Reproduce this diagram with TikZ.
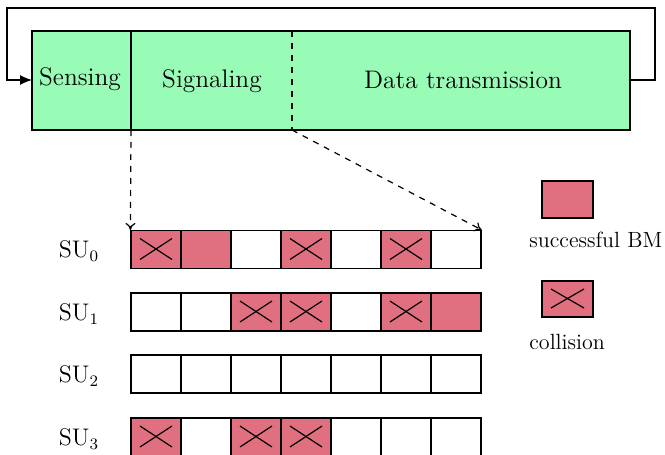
\documentclass[tikz,border=0pt]{standalone}
\usetikzlibrary{arrows.meta}
\definecolor{phasegreen}{RGB}{152,251,182}
\definecolor{bmred}{RGB}{224,112,128}
\tikzset{
  lw/.style={line width=0.6pt},
  txt/.style={font=\fontsize{12}{14}\selectfont, inner sep=0pt},
  phasetxt/.style={font=\fontsize{12.7}{15}\selectfont, inner sep=0pt},
  legtxt/.style={font=\fontsize{11}{13}\selectfont, inner sep=0pt, anchor=west},
  bmcellw/.style={draw, lw, fill=white, minimum width=25pt, minimum height=19pt, inner sep=0pt},
  bmcells/.style={bmcellw, fill=bmred},
  bmcellx/.style={bmcells, path picture={
      \draw[lw] ([xshift=4.5pt,yshift=-4pt]path picture bounding box.north west) -- ([xshift=-4.5pt,yshift=4.5pt]path picture bounding box.south east);
      \draw[lw] ([xshift=4.5pt,yshift=4.5pt]path picture bounding box.south west) -- ([xshift=-4.5pt,yshift=-4pt]path picture bounding box.north east);}},
  zoomarrow/.style={lw, dashed, -{To[length=3.5pt,width=5pt]}},
}
\begin{document}
\begin{tikzpicture}[x=0.5pt,y=-0.5pt]
\useasboundingbox (0,0) rectangle (665,455);
% top frame
\coordinate (fNW) at (32,31);
\coordinate (fSE) at (630,130);
\fill[phasegreen] (fNW) rectangle (fSE);
\draw[lw] (fNW) rectangle (fSE);
\coordinate (d1top) at (131,31);
\coordinate (d1bot) at (131,130);
\coordinate (d2top) at (292,31);
\coordinate (d2bot) at (292,130);
\draw[lw] (d1top) -- (d1bot);
\draw[lw, dashed] (d2top) -- (d2bot);
\node[phasetxt] (sensing) at (80,79) {Sensing};
\node[phasetxt] (signaling) at (212,81) {Signaling};
\node[phasetxt] (data) at (463,80) {Data transmission};
% feedback loop
\coordinate (loopR) at (630,80);
\coordinate (loopL) at (32,80);
\draw[lw, -{Latex[length=6pt,width=5pt]}] (loopR) -- (655,80) -- (655,8) -- (7,8) -- (7,80) -- (loopL);
% SU labels
\node[txt] (su0) at (79,251) {SU$_0$};
\node[txt] (su1) at (79,314) {SU$_1$};
\node[txt] (su2) at (79,376) {SU$_2$};
\node[txt] (su3) at (79,439) {SU$_3$};
% grid
\foreach \t [count=\i from 0] in {x,s,w,x,w,x,w}
  \node[bmcell\t] (c0\i) at ({156+50*\i},249.5) {};
\foreach \t [count=\i from 0] in {w,w,x,x,w,x,s}
  \node[bmcell\t] (c1\i) at ({156+50*\i},312) {};
\foreach \t [count=\i from 0] in {w,w,w,w,w,w,w}
  \node[bmcell\t] (c2\i) at ({156+50*\i},374) {};
\foreach \t [count=\i from 0] in {x,w,x,x,w,w,w}
  \node[bmcell\t] (c3\i) at ({156+50*\i},437) {};
% zoom arrows
\draw[zoomarrow] (d1bot) -- (c00.north west);
\draw[zoomarrow] (d2bot) -- (c06.north east);
% legend
\node[bmcells, minimum width=25.5pt, minimum height=18.5pt] (legbm) at (567.5,199.5) {};
\node[legtxt] (legbmtxt) at (529,240) {successful BM};
\node[bmcellx, minimum width=25.5pt, minimum height=18pt] (legcol) at (567.5,299) {};
\node[legtxt] (legcoltxt) at (529,342) {collision};
\end{tikzpicture}
\end{document}
